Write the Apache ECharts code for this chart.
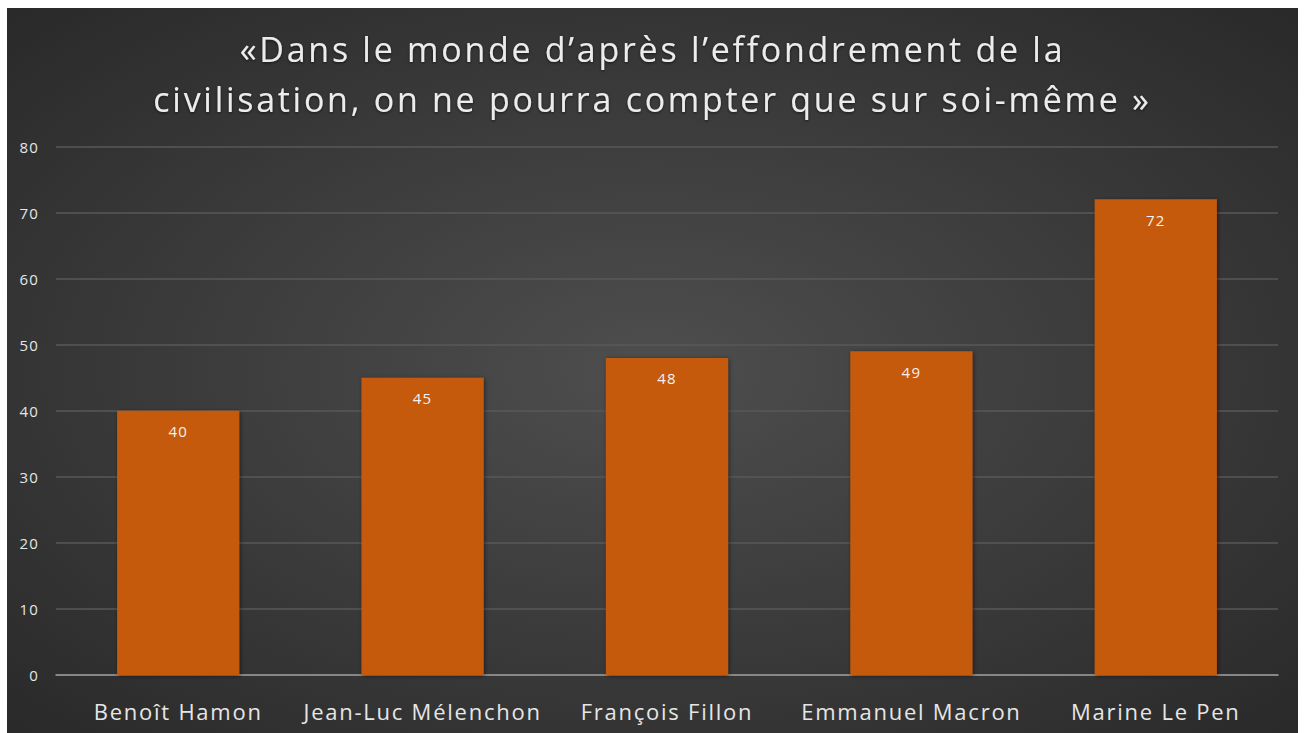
<!DOCTYPE html>
<html>
<head>
<meta charset="utf-8">
<script src="https://cdn.jsdelivr.net/npm/echarts@6/dist/echarts.min.js"></script>
<style>
  html, body { margin: 0; padding: 0; background: #fff; }
  #chart { position: absolute; left: 7px; top: 8px; width: 1291px; height: 725px; }
  /* the original font is tracked wider than Open Sans */
  #chart text { letter-spacing: 0.08em; }
</style>
</head>
<body>
<div id="chart"></div>
<script>
// data
const candidates = ["Benoît Hamon", "Jean-Luc Mélenchon", "François Fillon", "Emmanuel Macron", "Marine Le Pen"];
const scores = [40, 45, 48, 49, 72];
const titleText = "«Dans le monde d’après l’effondrement de la\ncivilisation, on ne pourra compter que sur soi-même »";

const chart = echarts.init(document.getElementById("chart"), null, { renderer: "svg" });
chart.setOption({
  backgroundColor: {
    type: "radial", x: 0.5, y: 0.5, r: 0.75,
    colorStops: [
      { offset: 0, color: "#4e4e4e" },
      { offset: 1, color: "#272727" }
    ]
  },
  title: {
    text: titleText,
    left: "center",
    top: 11,
    textStyle: {
      fontFamily: "Open Sans",
      fontWeight: "normal",
      fontSize: 34,
      lineHeight: 50,
      color: "#ececec",
      textShadowColor: "rgba(0,0,0,0.6)",
      textShadowBlur: 3,
      textShadowOffsetY: 1
    }
  },
  grid: { left: 49, right: 20, top: 138.5, bottom: 58 },
  xAxis: {
    type: "category",
    data: candidates,
    axisTick: { show: false },
    axisLine: { lineStyle: { color: "#9a9a9a", width: 1.5 } },
    axisLabel: { color: "#e6e6e6", fontSize: 22, fontFamily: "Open Sans", margin: 25, interval: 0 }
  },
  yAxis: {
    type: "value",
    min: 0, max: 80, interval: 10,
    axisLine: { show: false },
    axisTick: { show: false },
    axisLabel: { color: "#e6e6e6", fontSize: 15, fontFamily: "Open Sans", margin: 17 },
    splitLine: { lineStyle: { color: "#585858", width: 1.5 } }
  },
  series: [{
    type: "bar",
    data: scores,
    barWidth: "50%",
    itemStyle: {
      color: "#c55a11",
      shadowColor: "rgba(0,0,0,0.5)",
      shadowBlur: 4,
      shadowOffsetX: 1,
      shadowOffsetY: 1
    },
    label: {
      show: true,
      position: "insideTop",
      distance: 13,
      color: "#f2f2f2",
      fontSize: 15,
      fontFamily: "Open Sans"
    }
  }]
});
</script>
</body>
</html>
